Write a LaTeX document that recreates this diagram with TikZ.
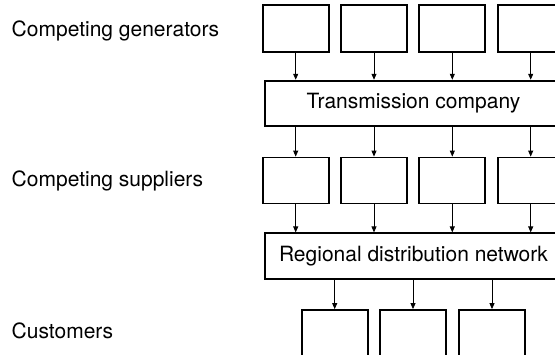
\documentclass[tikz,border=0pt]{standalone}
\usepackage{fontspec}
\setmainfont{TeX Gyre Heros}
\usetikzlibrary{arrows.meta}

\begin{document}
\begin{tikzpicture}[x=1pt, y=-1pt,
  box/.style={draw, line width=1.8pt, minimum width=66pt, minimum height=46pt, inner sep=0pt},
  wide/.style={draw, line width=1.8pt, minimum width=297pt, minimum height=46pt, inner sep=0pt, font=\fontsize{21}{25}\selectfont},
  lab/.style={anchor=base west, inner sep=0pt, font=\fontsize{21}{25}\selectfont},
  flow/.style={-{Triangle[length=6pt,width=5pt]}, line width=0.8pt}]
\useasboundingbox (0,0) rectangle (555,354);

% row labels
\node[lab] (lgen) at (11.5,36.7) {Competing generators};
\node[lab] (lsup) at (11.5,186.7) {Competing suppliers};
\node[lab] (lcus) at (11.5,338.3) {Customers};

% generators
\node[box, minimum height=47pt] (gen1) at (295.7,28.5) {};
\node[box, minimum height=47pt] (gen2) at (374,28.5) {};
\node[box, minimum height=47pt] (gen3) at (452.3,28.5) {};
\node[box, minimum height=47pt] (gen4) at (530.7,28.5) {};

\node[wide, minimum height=45.3pt] (trans) at (413.5,103.3) {Transmission company};
\draw[flow] (gen1.south) -- (gen1.south |- trans.north);
\draw[flow] (gen2.south) -- (gen2.south |- trans.north);
\draw[flow] (gen3.south) -- (gen3.south |- trans.north);
\draw[flow] (gen4.south) -- (gen4.south |- trans.north);

% suppliers
\node[box] (sup1) at (295.7,180.5) {};
\node[box] (sup2) at (374,180.5) {};
\node[box] (sup3) at (452.3,180.5) {};
\node[box] (sup4) at (530.7,180.5) {};
\draw[flow] (trans.south -| sup1.north) -- (sup1.north);
\draw[flow] (trans.south -| sup2.north) -- (sup2.north);
\draw[flow] (trans.south -| sup3.north) -- (sup3.north);
\draw[flow] (trans.south -| sup4.north) -- (sup4.north);

\node[wide] (reg) at (413.5,256.3) {Regional distribution network};
\draw[flow] (sup1.south) -- (sup1.south |- reg.north);
\draw[flow] (sup2.south) -- (sup2.south |- reg.north);
\draw[flow] (sup3.south) -- (sup3.south |- reg.north);
\draw[flow] (sup4.south) -- (sup4.south |- reg.north);

% customers
\node[box] (cus1) at (334.7,333) {};
\node[box] (cus2) at (413,333) {};
\node[box] (cus3) at (492,333) {};
\draw[flow] (reg.south -| cus1.north) -- (cus1.north);
\draw[flow] (reg.south -| cus2.north) -- (cus2.north);
\draw[flow] (reg.south -| cus3.north) -- (cus3.north);
\end{tikzpicture}
\end{document}
